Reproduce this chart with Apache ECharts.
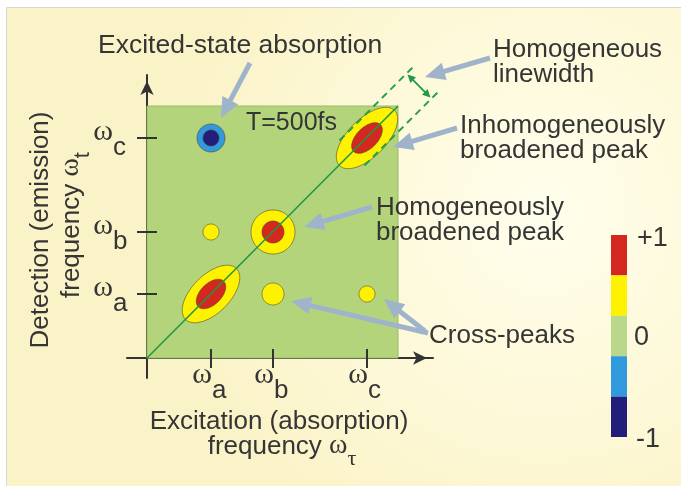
<!DOCTYPE html>
<html><head><meta charset="utf-8">
<script src="https://cdn.jsdelivr.net/npm/echarts@6/dist/echarts.min.js"></script>
<style>html,body{margin:0;padding:0;background:#fff}#c{width:681px;height:486px}</style>
</head><body><div id="c"></div>
<script>
// ---------- data ----------
const freqTicks = [64, 126, 220];            // ωa, ωb, ωc
const freqTickLetters = ['a', 'b', 'c'];
const peakX = [64, 126, 220, 64, 64, 126, 220];   // excitation frequency
const peakY = [64, 126, 220, 220, 126, 64, 64];   // detection frequency
const peakAmp = [1, 1, 1, -1, 0.5, 0.5, 0.5];
const outerDiagHW = [36, 22, 39, 14, 8, 11, 8];   // half-width along diagonal (outer contour)
const outerAntiHW = [19, 22, 19, 14, 8, 11, 8];   // half-width along anti-diagonal
const innerDiagHW = [18, 11, 19, 8, 0, 0, 0];
const innerAntiHW = [10.5, 11, 10.5, 8, 0, 0, 0];
const contourLevels = [0.4, 0.8];
const colorbarBounds = [-1, -0.6, -0.2, 0.2, 0.6, 1];
const colorbarLabels = ['+1', '0', '-1'];
const spectrumMax = [251, 252];
const homLinewidth = 25;     // separation (y - x) of the dashed guide lines

// ---------- helpers ----------
const SANS = '"Liberation Sans", Arial, Helvetica, sans-serif';
const SERIF = '"Liberation Serif", "Times New Roman", serif';
const TXT = '#353535';
const mctx = document.createElement('canvas').getContext('2d');
function tw(t, font) { mctx.font = font; return mctx.measureText(t).width; }
function subLine(cx, cy, parts, z) {
  const total = parts.reduce((s, p) => s + tw(p.text, p.font), 0);
  let x = cx - total / 2;
  return parts.map(p => {
    const el = { type: 'text', x: x, y: cy + (p.dy || 0), z: z || 100,
      style: { text: p.text, font: p.font, fill: TXT, align: 'left', verticalAlign: 'middle' } };
    x += tw(p.text, p.font);
    return el;
  });
}
function label(text, x, y, size, lh) {
  return { type: 'text', x: x, y: y, z: 100,
    style: { text: text, font: size + 'px ' + SANS, fill: TXT, align: 'left', verticalAlign: 'middle', lineHeight: lh || 25 } };
}

const contourData = [];
for (let i = 0; i < peakX.length; i++) {
  const s = Math.sign(peakAmp[i]);
  contourData.push([peakX[i], peakY[i], s * contourLevels[0], outerDiagHW[i], outerAntiHW[i]]);
  if (Math.abs(peakAmp[i]) > contourLevels[1]) {
    contourData.push([peakX[i], peakY[i], s * contourLevels[1], innerDiagHW[i], innerAntiHW[i]]);
  }
}
const tickData = [];
freqTicks.forEach((v, i) => { tickData.push([0, v, i]); tickData.push([1, v, i]); });

const pieces = [];
for (let i = 0; i < colorbarBounds.length - 1; i++) pieces.push({ min: colorbarBounds[i], max: colorbarBounds[i + 1] });
const pieceColors = ['#231e7a', '#3199de', '#b9d88c', '#fff200', '#d3271f'];
pieces.forEach((p, i) => p.color = pieceColors[i]);

// annotation arrows (tail -> head), in data coordinates
const annotationArrows = [
  [103, 295, 74, 240],
  [343, 300, 278, 281],
  [310, 230, 246, 211],
  [225, 151, 157, 131],
  [281, 25, 144, 57],
  [278, 27, 237, 59]
];

function renderSpectrum(params, api) {
  const p0 = api.coord([0, api.value(1)]);
  const sz = api.size([api.value(0), api.value(1)]);
  return { type: 'rect', shape: { x: p0[0], y: p0[1], width: sz[0], height: sz[1] },
    style: { fill: '#b4d47c', stroke: '#9cba68', lineWidth: 1 } };
}
function renderContour(params, api) {
  const c = api.coord([api.value(0), api.value(1)]);
  const k = api.size([1, 1]);
  const n = Math.hypot(k[0], k[1]);
  const d = [k[0] / n, -k[1] / n], p = [k[1] / n, k[0] / n];
  const a = api.value(3) * (k[0] + k[1]) / 2, b = api.value(4) * (k[0] + k[1]) / 2;
  const pts = [];
  for (let t = 0; t < 96; t++) {
    const th = t / 96 * Math.PI * 2, ca = Math.cos(th) * a, sb = Math.sin(th) * b;
    pts.push([c[0] + ca * d[0] + sb * p[0], c[1] + ca * d[1] + sb * p[1]]);
  }
  return { type: 'polygon', shape: { points: pts },
    style: { fill: api.visual('color'), stroke: 'rgba(80,70,40,0.75)', lineWidth: 0.8 } };
}
function arrowEls(p1, p2, color, w, hl, hw, both) {
  const dx = p2[0] - p1[0], dy = p2[1] - p1[1], L = Math.hypot(dx, dy);
  const u = [dx / L, dy / L], nrm = [-u[1], u[0]];
  const head = (tip, dir) => {
    const bx = tip[0] - dir[0] * hl, by = tip[1] - dir[1] * hl;
    return { type: 'polygon', shape: { points: [tip, [bx + nrm[0] * hw, by + nrm[1] * hw], [bx - nrm[0] * hw, by - nrm[1] * hw]] },
      style: { fill: color } };
  };
  const s1 = both ? [p1[0] + u[0] * (hl - 1), p1[1] + u[1] * (hl - 1)] : p1;
  const s2 = [p2[0] - u[0] * (hl - 1), p2[1] - u[1] * (hl - 1)];
  const els = [{ type: 'line', shape: { x1: s1[0], y1: s1[1], x2: s2[0], y2: s2[1] }, style: { stroke: color, lineWidth: w } }, head(p2, u)];
  if (both) els.push(head(p1, [-u[0], -u[1]]));
  return els;
}
function renderArrow(params, api) {
  const p1 = api.coord([api.value(0), api.value(1)]);
  const p2 = api.coord([api.value(2), api.value(3)]);
  return { type: 'group', children: arrowEls(p1, p2, '#9fb4ca', 5, 20, 9, false) };
}
function renderGuides(params, api) {
  const off = homLinewidth / 2;
  const d0 = api.value(0), d1 = api.value(1), dm = api.value(2);
  const els = [];
  [1, -1].forEach(s => {
    const a = api.coord([d0 - s * off, d0 + s * off]);
    const b = api.coord([d1 - s * off, d1 + s * off]);
    els.push({ type: 'line', shape: { x1: a[0], y1: a[1], x2: b[0], y2: b[1] },
      style: { stroke: '#23a04c', lineWidth: 2, lineDash: [7, 5] } });
  });
  const q1 = api.coord([dm - off * 0.92, dm + off * 0.92]);
  const q2 = api.coord([dm + off * 0.92, dm - off * 0.92]);
  return { type: 'group', children: els.concat(arrowEls(q1, q2, '#1f9a45', 1.8, 8, 4, true)) };
}
function renderTick(params, api) {
  const axis = api.value(0), v = api.value(1), letter = freqTickLetters[api.value(2)];
  const fw = '30px ' + SERIF, fl = '26px ' + SANS;
  if (axis === 0) {
    const c = api.coord([v, 0]);
    return { type: 'group', children: [
      { type: 'line', shape: { x1: c[0], y1: c[1] - 9, x2: c[0], y2: c[1] + 10 }, style: { stroke: '#333', lineWidth: 2 } },
      { type: 'text', x: c[0] + 1, y: c[1] + 17, style: { text: 'ω', font: fw, fill: TXT, align: 'right', verticalAlign: 'middle' } },
      { type: 'text', x: c[0] + 1, y: c[1] + 33, style: { text: letter, font: fl, fill: TXT, align: 'left', verticalAlign: 'middle' } }
    ] };
  }
  const c = api.coord([0, v]);
  return { type: 'group', children: [
    { type: 'line', shape: { x1: c[0] - 10, y1: c[1], x2: c[0] + 10, y2: c[1] }, style: { stroke: '#333', lineWidth: 2 } },
    { type: 'text', x: c[0] - 34, y: c[1] - 6, style: { text: 'ω', font: fw, fill: TXT, align: 'right', verticalAlign: 'middle' } },
    { type: 'text', x: c[0] - 34, y: c[1] + 10, style: { text: letter, font: fl, fill: TXT, align: 'left', verticalAlign: 'middle' } }
  ] };
}

const axisLine = { onZero: true, symbol: ['none', 'arrow'], symbolSize: [10, 14], symbolOffset: [0, -6],
  lineStyle: { color: '#333', width: 2 } };

const F26 = '26px ' + SANS;
const yTitle = { type: 'group', x: 0, y: 0, rotation: Math.PI / 2, z: 100, children: [
  { type: 'text', x: -230, y: 41, style: { text: 'Detection (emission)', font: F26, fill: TXT, align: 'center', verticalAlign: 'middle' } }
].concat(subLine(-225, 72, [
  { text: 'frequency ', font: F26 }, { text: 'ω', font: '28px ' + SERIF, dy: -1 }, { text: 't', font: '22px ' + SANS, dy: 11 }
])) };

const graphics = [
  { type: 'rect', z: -100, shape: { x: 6.5, y: 7.5, width: 690, height: 490 },
    style: { stroke: '#d8d8d0', lineWidth: 1,
      fill: { type: 'radial', x: 0.78, y: 0.42, r: 0.75,
        colorStops: [{ offset: 0, color: '#fffeec' }, { offset: 0.5, color: '#fdf9da' }, { offset: 1, color: '#fbf3c8' }] } } },
  label('Excited-state absorption', 98, 46, 26.5),
  label('Homogeneous\nlinewidth', 493, 62, 26),
  label('Inhomogeneously\nbroadened peak', 460, 138, 26),
  label('Homogeneously\nbroadened peak', 376, 220, 26),
  label('Cross-peaks', 429, 336, 26),
  label('T=500fs', 246, 123, 25),
  { type: 'text', x: 279, y: 422, z: 100, style: { text: 'Excitation (absorption)', font: F26, fill: TXT, align: 'center', verticalAlign: 'middle' } },
  yTitle,
  { type: 'text', x: 637, y: 239, z: 100, style: { text: colorbarLabels[0], font: '27px ' + SANS, fill: TXT, align: 'left', verticalAlign: 'middle' } },
  { type: 'text', x: 634, y: 338, z: 100, style: { text: colorbarLabels[1], font: '27px ' + SANS, fill: TXT, align: 'left', verticalAlign: 'middle' } },
  { type: 'text', x: 636, y: 440, z: 100, style: { text: colorbarLabels[2], font: '27px ' + SANS, fill: TXT, align: 'left', verticalAlign: 'middle' } }
].concat(subLine(282, 447, [
  { text: 'frequency ', font: F26 }, { text: 'ω', font: '28px ' + SERIF, dy: -1 }, { text: 'τ', font: '22px ' + SERIF, dy: 12 }
]));

const chart = echarts.init(document.getElementById('c'), null, { renderer: 'canvas' });
chart.setOption({
  backgroundColor: '#ffffff',
  animation: false,
  grid: { left: 127, top: 75, width: 306, height: 303, containLabel: false, outerBoundsMode: 'none' },
  xAxis: { type: 'value', min: -20, max: 286, axisLine: axisLine, axisTick: { show: false },
    axisLabel: { show: false }, splitLine: { show: false } },
  yAxis: { type: 'value', min: -20, max: 283, axisLine: axisLine, axisTick: { show: false },
    axisLabel: { show: false }, splitLine: { show: false } },
  visualMap: { type: 'piecewise', seriesIndex: 1, dimension: 2, pieces: pieces, orient: 'vertical',
    left: 611, top: 235, itemWidth: 16, itemHeight: 40.4, itemGap: 0, itemSymbol: 'rect',
    showLabel: false, padding: 0, hoverLink: false, selectedMode: false },
  graphic: { elements: graphics },
  series: [
    { type: 'custom', z: 1, renderItem: renderSpectrum, data: [spectrumMax], silent: true },
    { type: 'custom', z: 2, renderItem: renderContour, data: contourData, silent: true },
    { type: 'line', z: 3, data: [[0, 0], spectrumMax], showSymbol: false, silent: true,
      lineStyle: { color: '#1d9a40', width: 1.6 } },
    { type: 'custom', z: 4, renderItem: renderGuides, data: [[205, 278, 272]], silent: true },
    { type: 'custom', z: 5, renderItem: renderTick, data: tickData, silent: true },
    { type: 'custom', z: 6, renderItem: renderArrow, data: annotationArrows, silent: true }
  ]
});
</script></body></html>
